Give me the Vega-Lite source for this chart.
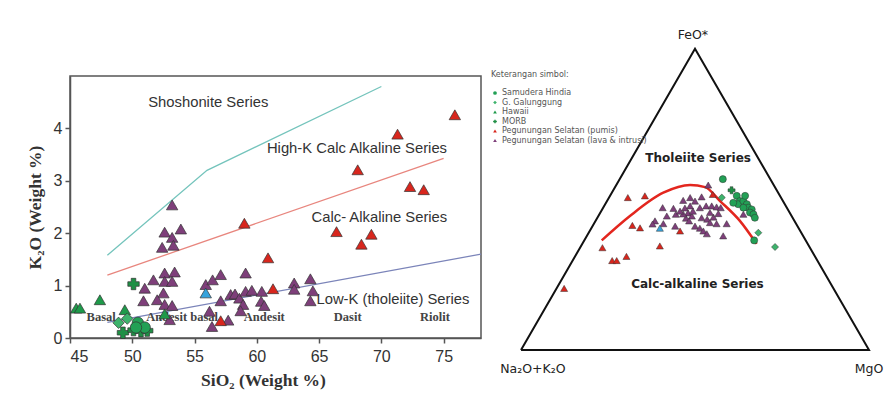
{
  "$schema": "https://vega.github.io/schema/vega-lite/v6.json",
  "background": "white",
  "padding": {"left": 25, "top": 29, "right": 5, "bottom": 5},
  "bounds": "flush",
  "spacing": 40,
  "config": {"font": "Liberation Sans"},
  "datasets": {
    "scatter": [
      {"SiO2": 53.2, "K2O": 2.54, "group": "Pegunungan Selatan (lava & intrusi)"},
      {"SiO2": 52.6, "K2O": 2.02, "group": "Pegunungan Selatan (lava & intrusi)"},
      {"SiO2": 53.9, "K2O": 2.08, "group": "Pegunungan Selatan (lava & intrusi)"},
      {"SiO2": 53.2, "K2O": 1.92, "group": "Pegunungan Selatan (lava & intrusi)"},
      {"SiO2": 52.4, "K2O": 1.73, "group": "Pegunungan Selatan (lava & intrusi)"},
      {"SiO2": 53.3, "K2O": 1.77, "group": "Pegunungan Selatan (lava & intrusi)"},
      {"SiO2": 52.6, "K2O": 1.24, "group": "Pegunungan Selatan (lava & intrusi)"},
      {"SiO2": 53.4, "K2O": 1.26, "group": "Pegunungan Selatan (lava & intrusi)"},
      {"SiO2": 51.7, "K2O": 1.11, "group": "Pegunungan Selatan (lava & intrusi)"},
      {"SiO2": 52.6, "K2O": 1.08, "group": "Pegunungan Selatan (lava & intrusi)"},
      {"SiO2": 53.2, "K2O": 1.08, "group": "Pegunungan Selatan (lava & intrusi)"},
      {"SiO2": 51.0, "K2O": 0.95, "group": "Pegunungan Selatan (lava & intrusi)"},
      {"SiO2": 52.5, "K2O": 0.86, "group": "Pegunungan Selatan (lava & intrusi)"},
      {"SiO2": 50.9, "K2O": 0.71, "group": "Pegunungan Selatan (lava & intrusi)"},
      {"SiO2": 52.0, "K2O": 0.73, "group": "Pegunungan Selatan (lava & intrusi)"},
      {"SiO2": 52.6, "K2O": 0.64, "group": "Pegunungan Selatan (lava & intrusi)"},
      {"SiO2": 53.2, "K2O": 0.62, "group": "Pegunungan Selatan (lava & intrusi)"},
      {"SiO2": 53.0, "K2O": 0.35, "group": "Pegunungan Selatan (lava & intrusi)"},
      {"SiO2": 55.9, "K2O": 1.02, "group": "Pegunungan Selatan (lava & intrusi)"},
      {"SiO2": 56.45, "K2O": 1.11, "group": "Pegunungan Selatan (lava & intrusi)"},
      {"SiO2": 56.2, "K2O": 0.51, "group": "Pegunungan Selatan (lava & intrusi)"},
      {"SiO2": 56.4, "K2O": 0.22, "group": "Pegunungan Selatan (lava & intrusi)"},
      {"SiO2": 57.1, "K2O": 1.21, "group": "Pegunungan Selatan (lava & intrusi)"},
      {"SiO2": 59.1, "K2O": 1.24, "group": "Pegunungan Selatan (lava & intrusi)"},
      {"SiO2": 57.1, "K2O": 0.71, "group": "Pegunungan Selatan (lava & intrusi)"},
      {"SiO2": 57.9, "K2O": 0.83, "group": "Pegunungan Selatan (lava & intrusi)"},
      {"SiO2": 58.25, "K2O": 0.84, "group": "Pegunungan Selatan (lava & intrusi)"},
      {"SiO2": 58.6, "K2O": 0.76, "group": "Pegunungan Selatan (lava & intrusi)"},
      {"SiO2": 59.1, "K2O": 0.89, "group": "Pegunungan Selatan (lava & intrusi)"},
      {"SiO2": 59.6, "K2O": 0.91, "group": "Pegunungan Selatan (lava & intrusi)"},
      {"SiO2": 60.4, "K2O": 0.89, "group": "Pegunungan Selatan (lava & intrusi)"},
      {"SiO2": 58.9, "K2O": 0.64, "group": "Pegunungan Selatan (lava & intrusi)"},
      {"SiO2": 58.7, "K2O": 0.52, "group": "Pegunungan Selatan (lava & intrusi)"},
      {"SiO2": 60.35, "K2O": 0.7, "group": "Pegunungan Selatan (lava & intrusi)"},
      {"SiO2": 60.6, "K2O": 0.62, "group": "Pegunungan Selatan (lava & intrusi)"},
      {"SiO2": 57.7, "K2O": 0.34, "group": "Pegunungan Selatan (lava & intrusi)"},
      {"SiO2": 63.0, "K2O": 1.05, "group": "Pegunungan Selatan (lava & intrusi)"},
      {"SiO2": 63.0, "K2O": 0.93, "group": "Pegunungan Selatan (lava & intrusi)"},
      {"SiO2": 64.3, "K2O": 1.13, "group": "Pegunungan Selatan (lava & intrusi)"},
      {"SiO2": 64.5, "K2O": 0.9, "group": "Pegunungan Selatan (lava & intrusi)"},
      {"SiO2": 64.3, "K2O": 0.71, "group": "Pegunungan Selatan (lava & intrusi)"},
      {"SiO2": 75.9, "K2O": 4.26, "group": "Pegunungan Selatan (pumis)"},
      {"SiO2": 71.3, "K2O": 3.89, "group": "Pegunungan Selatan (pumis)"},
      {"SiO2": 68.1, "K2O": 3.21, "group": "Pegunungan Selatan (pumis)"},
      {"SiO2": 72.3, "K2O": 2.89, "group": "Pegunungan Selatan (pumis)"},
      {"SiO2": 73.4, "K2O": 2.83, "group": "Pegunungan Selatan (pumis)"},
      {"SiO2": 59.0, "K2O": 2.19, "group": "Pegunungan Selatan (pumis)"},
      {"SiO2": 66.4, "K2O": 2.03, "group": "Pegunungan Selatan (pumis)"},
      {"SiO2": 69.2, "K2O": 1.98, "group": "Pegunungan Selatan (pumis)"},
      {"SiO2": 68.4, "K2O": 1.79, "group": "Pegunungan Selatan (pumis)"},
      {"SiO2": 60.9, "K2O": 1.53, "group": "Pegunungan Selatan (pumis)"},
      {"SiO2": 61.3, "K2O": 0.94, "group": "Pegunungan Selatan (pumis)"},
      {"SiO2": 57.1, "K2O": 0.33, "group": "Pegunungan Selatan (pumis)"},
      {"SiO2": 45.5, "K2O": 0.57, "group": "Hawaii"},
      {"SiO2": 45.8, "K2O": 0.57, "group": "Hawaii"},
      {"SiO2": 47.4, "K2O": 0.73, "group": "Hawaii"},
      {"SiO2": 49.4, "K2O": 0.54, "group": "Hawaii"},
      {"SiO2": 52.6, "K2O": 0.46, "group": "Hawaii"},
      {"SiO2": 48.9, "K2O": 0.29, "group": "G. Galunggung"},
      {"SiO2": 49.6, "K2O": 0.37, "group": "G. Galunggung"},
      {"SiO2": 50.1, "K2O": 1.03, "group": "MORB"},
      {"SiO2": 49.25, "K2O": 0.1, "group": "MORB"},
      {"SiO2": 50.1, "K2O": 0.15, "group": "MORB"},
      {"SiO2": 50.7, "K2O": 0.13, "group": "MORB"},
      {"SiO2": 51.2, "K2O": 0.14, "group": "MORB"},
      {"SiO2": 50.45, "K2O": 0.29, "group": "Samudera Hindia"},
      {"SiO2": 51.0, "K2O": 0.2, "group": "Samudera Hindia"},
      {"SiO2": 50.3, "K2O": 0.2, "group": "Samudera Hindia"},
      {"SiO2": 55.9, "K2O": 0.86, "group": "Lainnya"}
    ],
    "lines": [
      {"SiO2": 48, "K2O": 1.58, "boundary": "Shoshonite"},
      {"SiO2": 56, "K2O": 3.2, "boundary": "Shoshonite"},
      {"SiO2": 70, "K2O": 4.8, "boundary": "Shoshonite"},
      {"SiO2": 48, "K2O": 1.2, "boundary": "High-K"},
      {"SiO2": 75, "K2O": 3.43, "boundary": "High-K"},
      {"SiO2": 48, "K2O": 0.3, "boundary": "Low-K"},
      {"SiO2": 78, "K2O": 1.6, "boundary": "Low-K"}
    ],
    "seriesText": [
      {"SiO2": 56.1, "K2O": 4.49, "label": "Shoshonite Series"},
      {"SiO2": 68.04, "K2O": 3.61, "label": "High-K Calc Alkaline Series"},
      {"SiO2": 69.84, "K2O": 2.29, "label": "Calc- Alkaline Series"},
      {"SiO2": 70.93, "K2O": 0.73, "label": "Low-K (tholeiite) Series"}
    ],
    "rockText": [
      {"SiO2": 47.5, "K2O": 0.41, "label": "Basal"},
      {"SiO2": 54.0, "K2O": 0.41, "label": "Andesit basal"},
      {"SiO2": 60.6, "K2O": 0.41, "label": "Andesit"},
      {"SiO2": 67.3, "K2O": 0.41, "label": "Dasit"},
      {"SiO2": 74.3, "K2O": 0.41, "label": "Riolit"}
    ],
    "triangle": [
      {"tx": 0, "ty": 0, "o": 1},
      {"tx": 0.5, "ty": 0.866, "o": 2},
      {"tx": 1, "ty": 0, "o": 3},
      {"tx": 0, "ty": 0, "o": 4}
    ],
    "curve": [
      {"tx": 0.232, "ty": 0.315},
      {"tx": 0.313, "ty": 0.385},
      {"tx": 0.409, "ty": 0.452},
      {"tx": 0.486, "ty": 0.474},
      {"tx": 0.529, "ty": 0.468},
      {"tx": 0.572, "ty": 0.428},
      {"tx": 0.629, "ty": 0.371},
      {"tx": 0.677, "ty": 0.305}
    ],
    "ternary": [
      {"tx": 0.307, "ty": 0.438, "group": "Pegunungan Selatan (pumis)"},
      {"tx": 0.356, "ty": 0.443, "group": "Pegunungan Selatan (pumis)"},
      {"tx": 0.234, "ty": 0.294, "group": "Pegunungan Selatan (pumis)"},
      {"tx": 0.262, "ty": 0.257, "group": "Pegunungan Selatan (pumis)"},
      {"tx": 0.275, "ty": 0.257, "group": "Pegunungan Selatan (pumis)"},
      {"tx": 0.303, "ty": 0.269, "group": "Pegunungan Selatan (pumis)"},
      {"tx": 0.124, "ty": 0.177, "group": "Pegunungan Selatan (pumis)"},
      {"tx": 0.32, "ty": 0.358, "group": "Pegunungan Selatan (pumis)"},
      {"tx": 0.342, "ty": 0.351, "group": "Pegunungan Selatan (pumis)"},
      {"tx": 0.399, "ty": 0.299, "group": "Pegunungan Selatan (pumis)"},
      {"tx": 0.457, "ty": 0.342, "group": "Pegunungan Selatan (pumis)"},
      {"tx": 0.551, "ty": 0.447, "group": "Pegunungan Selatan (pumis)"},
      {"tx": 0.538, "ty": 0.474, "group": "Pegunungan Selatan (lava & intrusi)"},
      {"tx": 0.519, "ty": 0.44, "group": "Pegunungan Selatan (lava & intrusi)"},
      {"tx": 0.486, "ty": 0.438, "group": "Pegunungan Selatan (lava & intrusi)"},
      {"tx": 0.466, "ty": 0.43, "group": "Pegunungan Selatan (lava & intrusi)"},
      {"tx": 0.5, "ty": 0.428, "group": "Pegunungan Selatan (lava & intrusi)"},
      {"tx": 0.407, "ty": 0.409, "group": "Pegunungan Selatan (lava & intrusi)"},
      {"tx": 0.438, "ty": 0.407, "group": "Pegunungan Selatan (lava & intrusi)"},
      {"tx": 0.514, "ty": 0.409, "group": "Pegunungan Selatan (lava & intrusi)"},
      {"tx": 0.532, "ty": 0.414, "group": "Pegunungan Selatan (lava & intrusi)"},
      {"tx": 0.548, "ty": 0.414, "group": "Pegunungan Selatan (lava & intrusi)"},
      {"tx": 0.562, "ty": 0.411, "group": "Pegunungan Selatan (lava & intrusi)"},
      {"tx": 0.574, "ty": 0.409, "group": "Pegunungan Selatan (lava & intrusi)"},
      {"tx": 0.419, "ty": 0.385, "group": "Pegunungan Selatan (lava & intrusi)"},
      {"tx": 0.445, "ty": 0.39, "group": "Pegunungan Selatan (lava & intrusi)"},
      {"tx": 0.385, "ty": 0.371, "group": "Pegunungan Selatan (lava & intrusi)"},
      {"tx": 0.378, "ty": 0.362, "group": "Pegunungan Selatan (lava & intrusi)"},
      {"tx": 0.409, "ty": 0.363, "group": "Pegunungan Selatan (lava & intrusi)"},
      {"tx": 0.443, "ty": 0.356, "group": "Pegunungan Selatan (lava & intrusi)"},
      {"tx": 0.519, "ty": 0.38, "group": "Pegunungan Selatan (lava & intrusi)"},
      {"tx": 0.535, "ty": 0.376, "group": "Pegunungan Selatan (lava & intrusi)"},
      {"tx": 0.553, "ty": 0.382, "group": "Pegunungan Selatan (lava & intrusi)"},
      {"tx": 0.567, "ty": 0.392, "group": "Pegunungan Selatan (lava & intrusi)"},
      {"tx": 0.543, "ty": 0.395, "group": "Pegunungan Selatan (lava & intrusi)"},
      {"tx": 0.562, "ty": 0.363, "group": "Pegunungan Selatan (lava & intrusi)"},
      {"tx": 0.591, "ty": 0.363, "group": "Pegunungan Selatan (lava & intrusi)"},
      {"tx": 0.5, "ty": 0.356, "group": "Pegunungan Selatan (lava & intrusi)"},
      {"tx": 0.514, "ty": 0.35, "group": "Pegunungan Selatan (lava & intrusi)"},
      {"tx": 0.524, "ty": 0.342, "group": "Pegunungan Selatan (lava & intrusi)"},
      {"tx": 0.534, "ty": 0.334, "group": "Pegunungan Selatan (lava & intrusi)"},
      {"tx": 0.581, "ty": 0.328, "group": "Pegunungan Selatan (lava & intrusi)"},
      {"tx": 0.543, "ty": 0.366, "group": "Pegunungan Selatan (lava & intrusi)"},
      {"tx": 0.639, "ty": 0.39, "group": "Pegunungan Selatan (lava & intrusi)"},
      {"tx": 0.471, "ty": 0.408, "group": "Pegunungan Selatan (lava & intrusi)"},
      {"tx": 0.486, "ty": 0.414, "group": "Pegunungan Selatan (lava & intrusi)"},
      {"tx": 0.48, "ty": 0.394, "group": "Pegunungan Selatan (lava & intrusi)"},
      {"tx": 0.491, "ty": 0.385, "group": "Pegunungan Selatan (lava & intrusi)"},
      {"tx": 0.474, "ty": 0.379, "group": "Pegunungan Selatan (lava & intrusi)"},
      {"tx": 0.483, "ty": 0.371, "group": "Pegunungan Selatan (lava & intrusi)"},
      {"tx": 0.466, "ty": 0.391, "group": "Pegunungan Selatan (lava & intrusi)"},
      {"tx": 0.494, "ty": 0.399, "group": "Pegunungan Selatan (lava & intrusi)"},
      {"tx": 0.457, "ty": 0.399, "group": "Pegunungan Selatan (lava & intrusi)"},
      {"tx": 0.399, "ty": 0.35, "group": "Lainnya"},
      {"tx": 0.58, "ty": 0.491, "group": "Samudera Hindia"},
      {"tx": 0.605, "ty": 0.459, "group": "MORB"},
      {"tx": 0.577, "ty": 0.438, "group": "G. Galunggung"},
      {"tx": 0.62, "ty": 0.443, "group": "Samudera Hindia"},
      {"tx": 0.629, "ty": 0.428, "group": "Samudera Hindia"},
      {"tx": 0.624, "ty": 0.419, "group": "Samudera Hindia"},
      {"tx": 0.639, "ty": 0.428, "group": "Samudera Hindia"},
      {"tx": 0.649, "ty": 0.419, "group": "Samudera Hindia"},
      {"tx": 0.653, "ty": 0.409, "group": "Samudera Hindia"},
      {"tx": 0.663, "ty": 0.404, "group": "Samudera Hindia"},
      {"tx": 0.658, "ty": 0.395, "group": "Samudera Hindia"},
      {"tx": 0.668, "ty": 0.39, "group": "Samudera Hindia"},
      {"tx": 0.672, "ty": 0.38, "group": "Samudera Hindia"},
      {"tx": 0.61, "ty": 0.423, "group": "Samudera Hindia"},
      {"tx": 0.639, "ty": 0.409, "group": "Samudera Hindia"},
      {"tx": 0.644, "ty": 0.443, "group": "Samudera Hindia"},
      {"tx": 0.682, "ty": 0.337, "group": "G. Galunggung"},
      {"tx": 0.67, "ty": 0.315, "group": "Samudera Hindia"},
      {"tx": 0.73, "ty": 0.296, "group": "G. Galunggung"}
    ],
    "cornerText": [
      {"tx": 0.494, "ty": 0.905, "label": "FeO*"},
      {"tx": 0.034, "ty": -0.055, "label": "Na₂O+K₂O"},
      {"tx": 1.0, "ty": -0.055, "label": "MgO"}
    ],
    "fieldText": [
      {"tx": 0.509, "ty": 0.552, "label": "Tholeiite Series"},
      {"tx": 0.507, "ty": 0.19, "label": "Calc-alkaline Series"}
    ]
  },
  "hconcat": [
    {
      "width": 411,
      "height": 262,
      "view": {"stroke": "#555", "strokeWidth": 1.5},
      "encoding": {
        "x": {
          "field": "SiO2", "type": "quantitative",
          "scale": {"domain": [45, 78], "nice": false, "zero": false},
          "axis": {
            "values": [45, 50, 55, 60, 65, 70, 75], "grid": false,
            "title": "SiO₂ (Weight %)", "titleFont": "Liberation Serif", "titleFontSize": 17.5, "titleFontWeight": "bold", "titleColor": "#333", "titlePadding": 7, "titleX": 193,
            "labelFont": "Liberation Sans", "labelFontSize": 16, "labelColor": "#333", "labelPadding": 5,
            "tickSize": 5, "tickColor": "#555", "tickWidth": 1.5, "domainColor": "#555", "domainWidth": 1.5
          }
        },
        "y": {
          "field": "K2O", "type": "quantitative",
          "scale": {"domain": [0, 5], "nice": false, "zero": false},
          "axis": {
            "values": [0, 1, 2, 3, 4], "grid": false,
            "title": "K₂O (Weight %)", "titleFont": "Liberation Serif", "titleFontSize": 17.5, "titleFontWeight": "bold", "titleColor": "#333", "titlePadding": 9,
            "labelFont": "Liberation Sans", "labelFontSize": 16, "labelColor": "#333", "labelPadding": 3,
            "tickSize": 5, "tickColor": "#555", "tickWidth": 1.5, "domainColor": "#555", "domainWidth": 1.5
          }
        }
      },
      "layer": [
        {
          "data": {"name": "lines"},
          "mark": {"type": "line", "strokeWidth": 1.3},
          "encoding": {
            "stroke": {"field": "boundary", "type": "nominal", "scale": {"domain": ["Shoshonite", "High-K", "Low-K"], "range": ["#74c4bc", "#e8867e", "#7b84b9"]}, "legend": null}
          }
        },
        {
          "data": {"name": "seriesText"},
          "mark": {"type": "text", "font": "Liberation Sans", "fontSize": 14.8, "color": "#333"},
          "encoding": {"text": {"field": "label"}}
        },
        {
          "data": {"name": "rockText"},
          "mark": {"type": "text", "font": "Liberation Serif", "fontSize": 12.5, "fontWeight": "bold", "color": "#444"},
          "encoding": {"text": {"field": "label"}}
        },
        {
          "data": {"name": "scatter"},
          "mark": {"type": "point", "filled": true, "size": 130, "stroke": "#333", "strokeWidth": 0.7, "opacity": 1},
          "encoding": {
            "color": {"field": "group", "type": "nominal",
              "scale": {"domain": ["Samudera Hindia", "G. Galunggung", "Hawaii", "MORB", "Pegunungan Selatan (pumis)", "Pegunungan Selatan (lava & intrusi)", "Lainnya"],
                        "range": ["#22a055", "#3db36c", "#1e9a4a", "#1f8f45", "#d8261d", "#7e3f7a", "#36a3dc"]}},
            "shape": {"field": "group", "type": "nominal",
              "scale": {"domain": ["Samudera Hindia", "G. Galunggung", "Hawaii", "MORB", "Pegunungan Selatan (pumis)", "Pegunungan Selatan (lava & intrusi)", "Lainnya"],
                        "range": ["circle", "diamond", "triangle-up", "cross", "triangle-up", "triangle-up", "triangle-up"]}}
          }
        }
      ]
    },
    {
      "width": 348,
      "height": 274,
      "view": {"stroke": null},
      "encoding": {
        "x": {"field": "tx", "type": "quantitative", "scale": {"domain": [0, 1], "nice": false, "zero": false}, "axis": null},
        "y": {"field": "ty", "type": "quantitative", "scale": {"domain": [0, 0.7874], "nice": false, "zero": false}, "axis": null}
      },
      "layer": [
        {
          "data": {"name": "triangle"},
          "mark": {"type": "line", "color": "#111", "strokeWidth": 2, "strokeJoin": "miter"},
          "encoding": {"order": {"field": "o", "type": "quantitative"}}
        },
        {
          "data": {"name": "curve"},
          "mark": {"type": "line", "color": "#e3261e", "strokeWidth": 2.5, "interpolate": "monotone"},
          "encoding": {}
        },
        {
          "data": {"name": "cornerText"},
          "mark": {"type": "text", "font": "DejaVu Sans", "fontSize": 12.5, "color": "#222"},
          "encoding": {"text": {"field": "label"}}
        },
        {
          "data": {"name": "fieldText"},
          "mark": {"type": "text", "font": "DejaVu Sans", "fontSize": 12, "fontWeight": "bold", "color": "#222"},
          "encoding": {"text": {"field": "label"}}
        },
        {
          "data": {"name": "ternary"},
          "mark": {"type": "point", "filled": true, "size": 50, "stroke": "#333", "strokeWidth": 0.5, "opacity": 1},
          "encoding": {
            "color": {"field": "group", "type": "nominal",
              "scale": {"domain": ["Samudera Hindia", "G. Galunggung", "Hawaii", "MORB", "Pegunungan Selatan (pumis)", "Pegunungan Selatan (lava & intrusi)", "Lainnya"],
                        "range": ["#22a055", "#3db36c", "#1e9a4a", "#1f8f45", "#d8261d", "#7e3f7a", "#36a3dc"]},
              "legend": {"values": ["Samudera Hindia", "G. Galunggung", "Hawaii", "MORB", "Pegunungan Selatan (pumis)", "Pegunungan Selatan (lava & intrusi)"],
                "title": "Keterangan simbol:", "orient": "none", "legendX": 421, "legendY": -5,
                "titleFont": "DejaVu Sans", "titleFontSize": 8, "titleFontWeight": "normal", "titleColor": "#555", "titlePadding": 10,
                "labelFont": "DejaVu Sans", "labelFontSize": 8, "labelColor": "#555", "labelOffset": 3, "labelLimit": 300,
                "symbolSize": 14, "symbolStrokeWidth": 0, "rowPadding": 1.5, "padding": 0}},
            "shape": {"field": "group", "type": "nominal",
              "scale": {"domain": ["Samudera Hindia", "G. Galunggung", "Hawaii", "MORB", "Pegunungan Selatan (pumis)", "Pegunungan Selatan (lava & intrusi)", "Lainnya"],
                        "range": ["circle", "diamond", "triangle-up", "cross", "triangle-up", "triangle-up", "triangle-up"]},
              "legend": {"values": ["Samudera Hindia", "G. Galunggung", "Hawaii", "MORB", "Pegunungan Selatan (pumis)", "Pegunungan Selatan (lava & intrusi)"],
                "title": "Keterangan simbol:", "orient": "none", "legendX": 421, "legendY": -5,
                "titleFont": "DejaVu Sans", "titleFontSize": 8, "titleFontWeight": "normal", "titleColor": "#555", "titlePadding": 10,
                "labelFont": "DejaVu Sans", "labelFontSize": 8, "labelColor": "#555", "labelOffset": 3, "labelLimit": 300,
                "symbolSize": 14, "symbolStrokeWidth": 0, "rowPadding": 1.5, "padding": 0}}
          }
        }
      ]
    }
  ]
}
